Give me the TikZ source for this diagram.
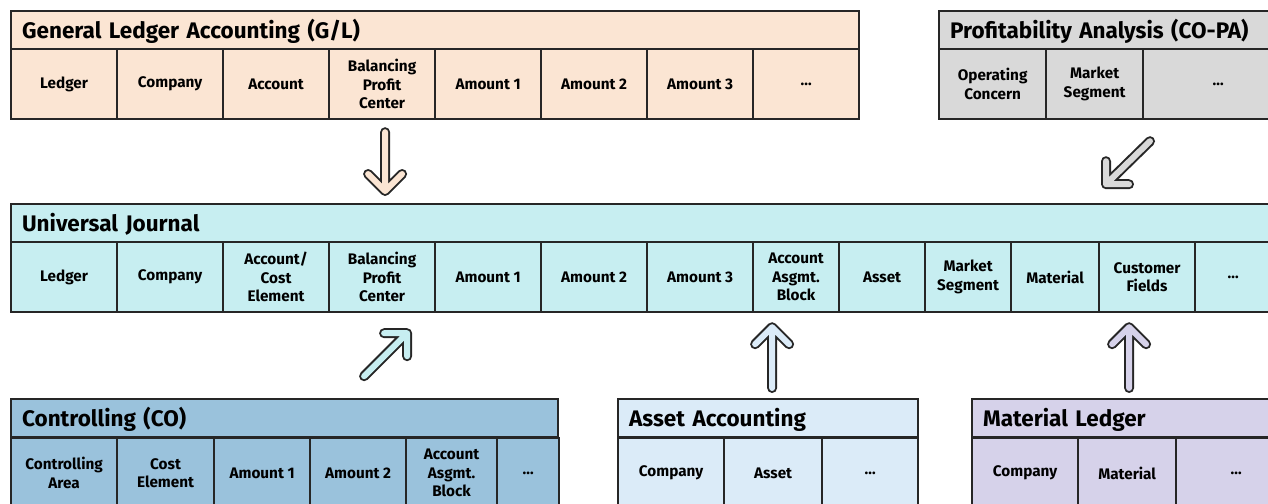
\documentclass[tikz,border=0pt]{standalone}
\usepackage{fontspec}
\setmainfont{Fira Sans}
\usepackage{tikz}
\usetikzlibrary{calc}
\usepackage{xcolor}

\definecolor{linedark}{RGB}{38,38,38}
\definecolor{glpeach}{RGB}{251,229,211}
\definecolor{copagray}{RGB}{217,217,217}
\definecolor{ujcyan}{RGB}{199,238,241}
\definecolor{coblue}{RGB}{154,194,220}
\definecolor{asblue}{RGB}{219,235,248}
\definecolor{mllilac}{RGB}{214,210,234}

\tikzset{
  cell/.style={draw=linedark, line width=2.2pt, minimum height=70pt, inner sep=0pt,
    anchor=north west, align=center, font=\bfseries\fontsize{15.3}{18.5}\selectfont},
  head/.style={draw=linedark, line width=2.2pt, minimum height=38pt, inner xsep=11pt,
    inner ysep=0pt, text height=16pt, text depth=0pt, anchor=north west, align=left,
    font=\bfseries\fontsize{22.5}{24}\selectfont},
  fatarrow/.style={draw=linedark, line width=2pt, double=#1, double distance=6pt,
    line cap=round, line join=round},
}

\begin{document}
\begin{tikzpicture}[x=1pt,y=-1pt]

\useasboundingbox (0,0) rectangle (1268,503);
\clip (0,0) rectangle (1268,503);

% ------------------------------------------------------------
% General Ledger Accounting (G/L)
% ------------------------------------------------------------
\node[head, fill=glpeach, text width=826pt] (gl) at (10,10)
{General Ledger Accounting (G/L)};
\foreach \x/\w/\lbl [count=\i] in {10/106/Ledger, 116/106/Company, 222/106/Account,
  328/106/{Balancing\\Profit\\Center}, 434/106/Amount 1, 540/106/Amount 2,
  646/106/Amount 3, 752/106/\ldots} {
  \node[cell, fill=glpeach, minimum width=\w pt] (gl-\i) at (\x,48) {\lbl};
}

% ------------------------------------------------------------
% Profitability Analysis (CO-PA)
% ------------------------------------------------------------
\node[head, fill=copagray, text width=330pt] (copa) at (938,10)
{Profitability Analysis (CO-PA)};
\foreach \x/\w/\lbl [count=\i] in {938/107/{Operating\\Concern},
  1045/97/{Market\\Segment}, 1142/150/\ldots} {
  \node[cell, fill=copagray, minimum width=\w pt] (copa-\i) at (\x,48) {\lbl};
}

% ------------------------------------------------------------
% Universal Journal
% ------------------------------------------------------------
\node[head, fill=ujcyan, text width=1280pt] (uj) at (10,203)
{Universal Journal};
\foreach \x/\w/\lbl [count=\i] in {10/106/Ledger, 116/106/Company,
  222/106/{Account/\\Cost\\Element}, 328/106/{Balancing\\Profit\\Center},
  434/106/Amount 1, 540/106/Amount 2, 646/106/Amount 3,
  752/86/{Account\\Asgmt.\\Block}, 838/86/Asset, 924/86/{Market\\Segment},
  1010/88/Material, 1098/96/{Customer\\Fields}, 1194/76/\ldots} {
  \node[cell, fill=ujcyan, minimum width=\w pt] (uj-\i) at (\x,241) {\lbl};
}

% ------------------------------------------------------------
% Controlling (CO)
% ------------------------------------------------------------
\node[head, fill=coblue, text width=525pt] (co) at (10,398)
{Controlling (CO)};
\foreach \x/\w/\lbl [count=\i] in {10/106/{Controlling\\Area},
  116/97/{Cost\\Element}, 213/96/Amount 1, 309/96/Amount 2,
  405/91/{Account\\Asgmt.\\Block}, 496/62/\ldots} {
  \node[cell, fill=coblue, minimum width=\w pt] (co-\i) at (\x,437) {\lbl};
}

% ------------------------------------------------------------
% Asset Accounting
% ------------------------------------------------------------
\node[head, fill=asblue, text width=278pt] (as) at (617,398)
{Asset Accounting};
\foreach \x/\w/\lbl [count=\i] in {617/106/Company, 723/98/Asset, 821/96/\ldots} {
  \node[cell, fill=asblue, minimum width=\w pt] (as-\i) at (\x,437) {\lbl};
}

% ------------------------------------------------------------
% Material Ledger
% ------------------------------------------------------------
\node[head, fill=mllilac, text width=300pt] (ml) at (971,398)
{Material Ledger};
\foreach \x/\w/\lbl [count=\i] in {971/106/Company, 1077/98/Material, 1175/120/\ldots} {
  \node[cell, fill=mllilac, minimum width=\w pt] (ml-\i) at (\x,437) {\lbl};
}

% ------------------------------------------------------------
% Flows into the Universal Journal
% ------------------------------------------------------------
\coordinate (gl-from) at ($(gl-4.south)+(3,12)$);
\coordinate (gl-to) at ($(uj-4.north |- uj.north)+(3,-12)$);
\draw[fatarrow=glpeach] (gl-from) -- (gl-to)
  ($(gl-to)+(-17,-17)$) -- (gl-to) -- ($(gl-to)+(17,-17)$);

\coordinate (copa-from) at ($(copa-3.south west)+(8,21)$);
\coordinate (copa-to) at ($(copa-3.south west)+(-36,64)$);
\draw[fatarrow=copagray] (copa-from) -- (copa-to)
  ($(copa-to)+(0,-23)$) -- (copa-to) -- ($(copa-to)+(23,0)$);

\coordinate (co-from) at ($(uj-4.south)+(-18,63)$);
\coordinate (co-to) at ($(uj-4.south)+(25,20)$);
\draw[fatarrow=ujcyan] (co-from) -- (co-to)
  ($(co-to)+(-23,0)$) -- (co-to) -- ($(co-to)+(0,23)$);

\coordinate (as-from) at ($(as-2.north |- as.north)+(-1,-10)$);
\coordinate (as-to) at ($(as-2.north |- uj-8.south)+(-1,14)$);
\draw[fatarrow=asblue] (as-from) -- (as-to)
  ($(as-to)+(-17,17)$) -- (as-to) -- ($(as-to)+(17,17)$);

\coordinate (ml-from) at ($(ml-2.north |- ml.north)+(2,-10)$);
\coordinate (ml-to) at ($(ml-2.north |- uj-11.south)+(2,14)$);
\draw[fatarrow=mllilac] (ml-from) -- (ml-to)
  ($(ml-to)+(-17,17)$) -- (ml-to) -- ($(ml-to)+(17,17)$);

\end{tikzpicture}
\end{document}
